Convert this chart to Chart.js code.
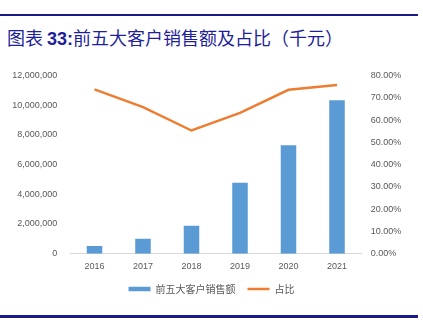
<!DOCTYPE html>
<html>
<head>
<meta charset="utf-8">
<script src="https://cdn.jsdelivr.net/npm/chart.js@4"></script>
<style>
  html, body { margin: 0; padding: 0; background: #fff; }
  #wrap { position: relative; width: 423px; height: 323px; overflow: hidden; }
  .rule { position: absolute; left: 0; width: 418px; background: #1a1a8a; }
  #title {
    position: absolute; left: 7px; top: 24px; white-space: nowrap; line-height: 26px;
    font-family: "Noto Sans CJK SC", sans-serif; font-size: 18px; color: #1f1f99;
  }
  #title b { font-family: "Liberation Sans", Arial, sans-serif; font-weight: bold; }
  canvas { position: absolute; left: 0; top: 0; }
</style>
</head>
<body>
<div id="wrap">
  <div class="rule" style="top:14px;height:2px;"></div>
  <div id="title">图表 <b>33:</b>前五大客户销售额及占比（千元）</div>
  <div class="rule" style="top:315px;height:3px;"></div>
  <canvas id="c" width="423" height="323"></canvas>
</div>
<script>
const years = ["2016", "2017", "2018", "2019", "2020", "2021"];
const sales = [520000, 1010000, 1890000, 4770000, 7310000, 10340000];
const share = [73.8, 65.8, 55.3, 63.2, 73.6, 75.7];

const tickFont = { family: "'Liberation Sans', Arial, sans-serif", size: 9 };
const tickColor = "#595959";

new Chart(document.getElementById("c"), {
  data: {
    labels: years,
    datasets: [
      {
        type: "line",
        label: "占比",
        data: share,
        yAxisID: "y1",
        borderColor: "#ed7d31",
        borderWidth: 2.5,
        pointRadius: 0,
        tension: 0,
        order: 0
      },
      {
        type: "bar",
        label: "前五大客户销售额",
        data: sales,
        yAxisID: "y",
        backgroundColor: "#5b9bd5",
        barPercentage: 0.32,
        categoryPercentage: 1,
        order: 1
      }
    ]
  },
  options: {
    responsive: false,
    animation: false,
    layout: { padding: { top: 75.5, bottom: 19, left: 0, right: 0 } },
    scales: {
      x: {
        grid: { display: false, drawTicks: false },
        border: { display: true, color: "#d9d9d9", width: 1 },
        ticks: { font: tickFont, color: tickColor, padding: 7 },
        afterFit: s => { s.height = 18.3; }
      },
      y: {
        position: "left",
        min: 0,
        max: 12000000,
        grid: { display: false, drawTicks: false },
        border: { display: false },
        ticks: {
          stepSize: 2000000,
          font: tickFont,
          color: tickColor,
          padding: 13,
          callback: v => v.toLocaleString("en-US")
        },
        afterFit: s => { s.width = 70.25; }
      },
      y1: {
        position: "right",
        min: 0,
        max: 80,
        grid: { display: false, drawTicks: false },
        border: { display: false },
        ticks: {
          stepSize: 10,
          font: tickFont,
          color: tickColor,
          padding: 9.5,
          callback: v => v.toFixed(2) + "%"
        },
        afterFit: s => { s.width = 61.75; }
      }
    },
    plugins: {
      tooltip: { enabled: false },
      legend: {
        position: "bottom",
        reverse: true,
        labels: {
          usePointStyle: true,
          pointStyleWidth: 22,
          boxHeight: 4.5,
          padding: 12,
          color: tickColor,
          font: { family: "'Noto Sans CJK SC', sans-serif", size: 10 },
          generateLabels: chart => {
            const items = Chart.defaults.plugins.legend.labels.generateLabels(chart);
            items.forEach(it => {
              const ds = chart.data.datasets[it.datasetIndex];
              if (ds.type === "bar") {
                it.pointStyle = "rect";
                it.lineWidth = 0;
              } else {
                it.pointStyle = "line";
                it.lineWidth = 2.5;
              }
            });
            return items;
          }
        }
      }
    }
  }
});
</script>
</body>
</html>
